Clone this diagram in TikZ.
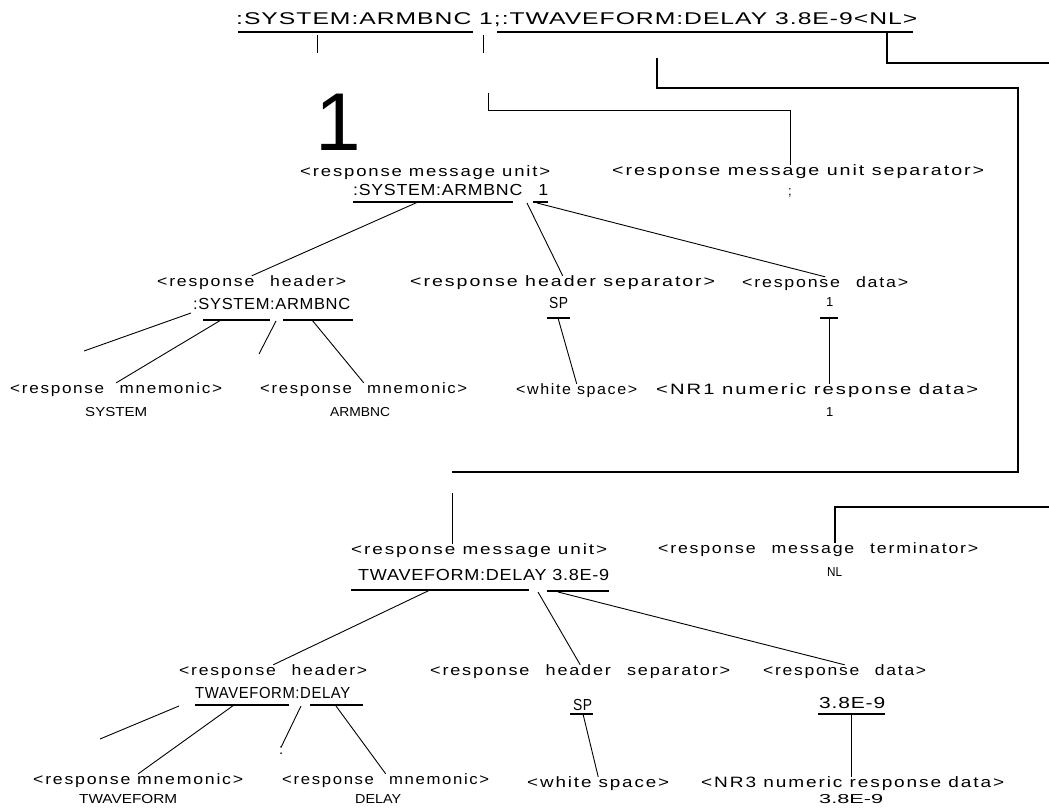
\documentclass[tikz,border=0pt]{standalone}
\usepackage{graphicx}
\usepackage{fontspec}
\setmainfont{Liberation Sans}
\newfontfamily\lblfont[LetterSpace=10]{Liberation Sans}
\newfontfamily\valfont[LetterSpace=4]{Liberation Sans}
\newcommand\fitw[2]{\resizebox{#1pt}{\height}{#2}}
\newcommand\gap{\hspace{0.9em}}
\tikzset{lbl/.style={inner sep=0pt,anchor=west,font=\lblfont\fontsize{15}{18}\selectfont},val/.style={inner sep=0pt,anchor=west,font=\valfont\fontsize{16}{19}\selectfont},sval/.style={inner sep=0pt,anchor=west,font=\fontsize{13}{15}\selectfont},link/.style={line width=0.9pt},uline/.style={line width=1.2pt},bus/.style={line width=2.4pt}}

\begin{document}
\begin{tikzpicture}[x=1pt,y=-1pt]
\useasboundingbox (0,0) rectangle (1049,810);
% response message
\node[val,font=\valfont\fontsize{17}{20}\selectfont] (msg) at (236,20) {\fitw{681}{:SYSTEM:ARMBNC 1;:TWAVEFORM:DELAY 3.8E-9<NL>}};
\draw[uline] (238,32) -- (473,32);\draw[uline] (497,32) -- (913,32);
\draw[link] (317,35) -- (317,53);\draw[link] (483,35) -- (483,53);
% first message unit
\node[inner sep=0pt,font=\fontsize{82}{86}\selectfont] (big) at (338,122) {1};
\node[lbl] (mu1) at (300,173) {\fitw{250}{<response message unit>}};
\node[val] (mu1v) at (353,190) {\fitw{195}{:SYSTEM:ARMBNC\gap 1}};
\draw[uline] (353,202) -- (513,202);\draw[uline] (533,202) -- (548,202);
\node[lbl] (sep1) at (612,172) {\fitw{372}{<response message unit separator>}};
\node[sval] (semi) at (788,193) {;};
\coordinate (s1) at (488,93);
\draw[link] (s1) -- (488,110) -- (semi |- 0,110) -- (semi |- sep1.north);
\node[lbl] (hdr1) at (157,283) {\fitw{189}{<response\gap header>}};
\node[val] (hdr1v) at (193,304) {\fitw{157}{:SYSTEM:ARMBNC}};
\draw[uline] (203,320) -- (270,320);\draw[uline] (283,320) -- (353,320);
\node[lbl] (hsep1) at (410,283) {\fitw{305}{<response header separator>}};
\node[val] (sp1) at (549,303) {\fitw{19}{SP}};
\draw[uline] (547,318) -- (570,318);
\node[lbl] (dat1) at (742,284) {\fitw{166}{<response\gap data>}};
\node[sval] (dat1v) at (826,302) {1};
\draw[uline] (820,318) -- (838,318);
\draw[link] (418,202) -- (hdr1.north);
\draw[link] (527,203) -- (hsep1.north);
\draw[link] (537,203) -- (dat1.north);
\node[lbl] (mn1a) at (10,390) {\fitw{212}{<response\gap mnemonic>}};
\node[sval] (mn1av) at (85,412) {\fitw{62}{SYSTEM}};
\node[lbl] (mn1b) at (260,390) {\fitw{207}{<response\gap mnemonic>}};
\node[sval] (mn1bv) at (330,412) {\fitw{60}{ARMBNC}};
\node[lbl] (ws1) at (516,391) {\fitw{121}{<white space>}};
\node[lbl] (nr1) at (656,391) {\fitw{322}{<NR1 numeric response data>}};
\node[sval] (nr1v) at (826,412) {1};
\draw[link] (191,313) -- (84,351);
\draw[link] (221,320) -- (mn1a.north);
\draw[link] (276,321) -- (259,354);
\draw[link] (312,320) -- (mn1b.north);
\draw[link] (558,318) -- (ws1.north);
\draw[link] (829,318) -- (829,0 |- nr1.north);
% second message unit
\node[lbl] (mu2) at (351,551) {\fitw{256}{<response message unit>}};
\node[val] (mu2v) at (358,575) {\fitw{251}{TWAVEFORM:DELAY 3.8E-9}};
\draw[uline] (351,590) -- (529,590);\draw[uline] (547,591) -- (609,591);
\node[lbl] (term) at (658,550) {\fitw{320}{<response\gap message\gap terminator>}};
\node[sval] (termv) at (827,572) {\fitw{15}{NL}};
% link to the second unit and the terminator
\coordinate (s2) at (657,58);
\coordinate (c2) at (452,493);
\draw[bus] (s2) -- (657,88) -- (1018,88) -- (1018,472) -- (c2 |- 0,472);
\draw[link] (c2) -- (c2 |- mu2.north);
\draw[bus] (887,32) -- (887,63) -- (1049,63);
\draw[bus] (1049,507) -- (termv |- 0,507) -- (termv |- term.north);
\node[lbl] (hdr2) at (179,672) {\fitw{188}{<response\gap header>}};
\node[val] (hdr2v) at (195,693) {\fitw{155}{TWAVEFORM:DELAY}};
\draw[uline] (195,705) -- (289,705);\draw[uline] (310,705) -- (363,705);
\node[lbl] (hsep2) at (430,672) {\fitw{300}{<response\gap header\gap separator>}};
\node[val] (sp2) at (573,705) {\fitw{19}{SP}};
\draw[uline] (570,714) -- (593,714);
\node[lbl] (dat2) at (763,672) {\fitw{163}{<response\gap data>}};
\node[val] (dat2v) at (819,703) {\fitw{66}{3.8E-9}};
\draw[uline] (818,714) -- (885,714);
\draw[link] (430,590) -- (hdr2.north);
\draw[link] (538,592) -- (hsep2.north);
\draw[link] (558,592) -- (dat2.north);
\node[lbl] (mn2a) at (33,781) {\fitw{210}{<response mnemonic>}};
\node[sval] (mn2av) at (79,799) {\fitw{98}{TWAVEFORM}};
\node[lbl] (mn2b) at (282,781) {\fitw{207}{<response\gap mnemonic>}};
\node[sval] (mn2bv) at (355,799) {\fitw{46}{DELAY}};
\node[sval,font=\fontsize{15}{17}\selectfont] (colon) at (279,751) {:};
\node[lbl] (ws2) at (527,784) {\fitw{142}{<white space>}};
\node[lbl] (nr3) at (701,784) {\fitw{303}{<NR3 numeric response data>}};
\node[sval] (nr3v) at (819,799) {\fitw{64}{3.8E-9}};
\draw[link] (179,706) -- (100,739);
\draw[link] (234,705) -- (mn2a.north);
\draw[link] (301,706) -- (colon.north);
\draw[link] (336,706) -- (mn2b.north);
\draw[link] (583,714) -- (ws2.north);
\draw[link] (851,714) -- (851,0 |- nr3.north);
\end{tikzpicture}
\end{document}
